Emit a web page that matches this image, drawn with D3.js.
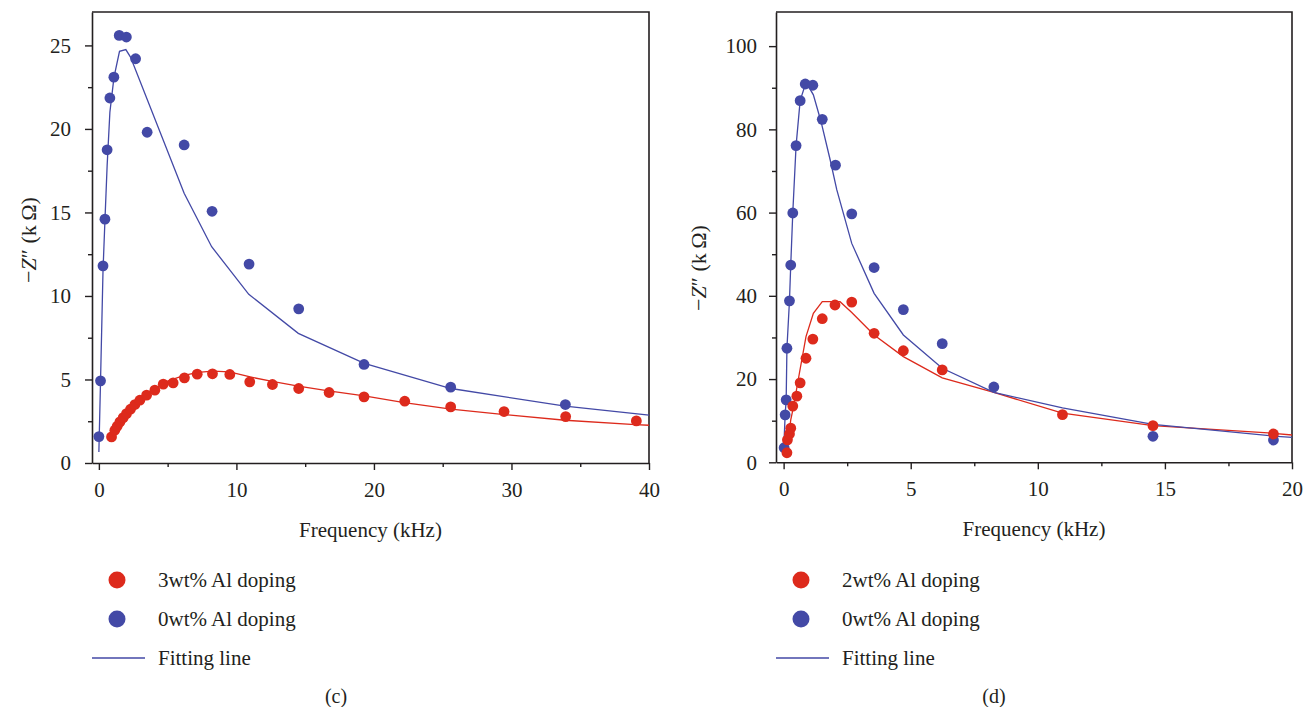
<!DOCTYPE html>
<html>
<head>
<meta charset="utf-8">
<script src="https://cdn.jsdelivr.net/npm/d3@7"></script>
<style>
  body { margin: 0; background: #fff; }
  svg text { font-family: "Liberation Serif", "Times New Roman", "DejaVu Serif", serif; fill: #231f20; }
</style>
</head>
<body>
<div id="chart"></div>
<script>
// panel (c): frequency (kHz) vs -Z'' (kOhm)
const cBlueDots = [[0,1.58],[0.12,4.92],[0.3,11.8],[0.44,14.6],[0.6,18.75],[0.8,21.85],[1.09,23.1],[1.48,25.6],[2.0,25.5],[2.67,24.2],[3.51,19.8],[6.2,19.04],[8.23,15.07],[10.92,11.91],[14.53,9.23],[19.28,5.9],[25.58,4.54],[33.92,3.5]];
const cRedDots = [[0.92,1.56],[1.16,1.96],[1.33,2.2],[1.53,2.46],[1.77,2.72],[2.01,2.96],[2.3,3.22],[2.62,3.5],[2.98,3.76],[3.47,4.06],[4.07,4.36],[4.68,4.72],[5.4,4.8],[6.22,5.1],[7.15,5.32],[8.26,5.34],[9.52,5.3],[10.97,4.86],[12.62,4.7],[14.53,4.46],[16.74,4.22],[19.28,3.96],[22.24,3.7],[25.58,3.36],[29.46,3.08],[33.94,2.78],[39.08,2.52]];
const cBlueFit = [[0,0.66],[0.12,4.9],[0.3,11.5],[0.44,14.5],[0.6,17.8],[0.8,21.0],[1.1,23.1],[1.5,24.65],[1.96,24.75],[2.3,24.3],[6.2,16.15],[8.2,12.95],[10.9,10.1],[14.5,7.76],[19.3,5.96],[25.6,4.46],[33.9,3.4],[40,2.86]];
const cRedFit = [[0.92,1.5],[1.5,2.4],[2.0,2.95],[3.0,3.8],[4.0,4.4],[5.0,4.9],[6.2,5.25],[7.2,5.42],[8.3,5.5],[9.5,5.45],[11,5.15],[12.6,4.88],[14.5,4.6],[16.7,4.32],[19.3,4.02],[22.2,3.62],[25.6,3.22],[29.5,2.9],[33.9,2.56],[39,2.3],[40,2.26]];

// panel (d)
const dBlueDots = [[0.02,3.5],[0.06,11.4],[0.1,15.0],[0.13,27.4],[0.23,38.8],[0.28,47.4],[0.36,59.9],[0.49,76.1],[0.65,86.9],[0.85,90.9],[1.15,90.6],[1.52,82.4],[2.04,71.4],[2.68,59.7],[3.56,46.8],[4.71,36.7],[6.24,28.5],[8.27,18.1],[14.53,6.25],[19.27,5.36]];
const dRedDots = [[0.13,2.3],[0.15,5.4],[0.23,6.8],[0.28,8.2],[0.36,13.5],[0.52,15.9],[0.65,19.1],[0.88,25.0],[1.15,29.6],[1.52,34.5],[2.02,37.8],[2.68,38.5],[3.56,31.0],[4.71,26.8],[6.24,22.2],[10.97,11.45],[14.53,8.8],[19.27,6.8]];
const dBlueFit = [[0.0,2.5],[0.06,11.4],[0.1,15],[0.13,27.4],[0.23,38.8],[0.28,47.4],[0.36,59.9],[0.49,76.1],[0.65,86.9],[0.85,90.7],[1.0,90.1],[1.17,88.3],[1.47,81.9],[1.83,72.7],[2.09,65.5],[2.68,52.6],[3.56,40.6],[4.71,30.6],[6.24,22.6],[8.27,16.8],[10.97,13.1],[14.53,9.1],[19.27,6.3],[20,6.0]];
const dRedFit = [[0.13,2.95],[0.28,10.2],[0.39,13.4],[0.62,21.4],[0.88,30.2],[1.17,35.8],[1.52,38.6],[2.22,38.6],[2.68,36.0],[3.56,30.6],[4.71,25.4],[6.24,20.3],[8.27,16.8],[10.97,11.8],[14.53,8.8],[19.27,6.97],[20,6.56]];

const cXTicks = [0, 10, 20, 30, 40];
const cYTicks = [0, 5, 10, 15, 20, 25];
const dXTicks = [0, 5, 10, 15, 20];
const dYTicks = [0, 20, 40, 60, 80, 100];
const cLegend = ["3wt% Al doping", "0wt% Al doping", "Fitting line"];
const dLegend = ["2wt% Al doping", "0wt% Al doping", "Fitting line"];

const RED = "#dd2a1c";
const BLUE = "#4349a6";
const INK = "#231f20";
const FS = 21;

const svg = d3.select("#chart").append("svg")
  .attr("width", 1303).attr("height", 707);

function drawPanel(p) {
  const x = d3.scaleLinear().domain(p.xDomain).range([p.left, p.right]);
  const y = d3.scaleLinear().domain(p.yDomain).range([p.bottom, p.top]);
  const g = svg.append("g");

  // minor ticks
  const xMinor = d3.range(p.xTicks[0], p.xDomain[1] + 1e-9, p.xMinorStep).filter(v => !p.xTicks.includes(v));
  const yMinor = d3.range(p.yTicks[0], p.yDomain[1], p.yMinorStep).filter(v => !p.yTicks.includes(v));

  g.append("g").attr("transform", `translate(0,${p.bottom})`)
    .call(d3.axisBottom(x).tickValues(p.xTicks).tickSize(7).tickSizeOuter(0).tickPadding(12).tickFormat(d3.format("d")));
  g.append("g").attr("transform", `translate(0,${p.bottom})`)
    .call(d3.axisBottom(x).tickValues(xMinor).tickSize(4).tickSizeOuter(0).tickFormat(""))
    .select(".domain").remove();
  g.append("g").attr("transform", `translate(${p.left},0)`)
    .call(d3.axisLeft(y).tickValues(p.yTicks).tickSize(7).tickSizeOuter(0).tickPadding(p.yPad).tickFormat(d3.format("d")));
  g.append("g").attr("transform", `translate(${p.left},0)`)
    .call(d3.axisLeft(y).tickValues(yMinor).tickSize(4).tickSizeOuter(0).tickFormat(""))
    .select(".domain").remove();

  g.selectAll(".domain").attr("stroke", INK).attr("stroke-width", 1.6);
  g.selectAll(".tick line").attr("stroke", INK).attr("stroke-width", 1.4);
  g.selectAll(".tick text").attr("font-size", FS).attr("fill", INK);

  // box top and right
  g.append("path")
    .attr("d", `M${p.left},${p.top}H${p.right}V${p.bottom}`)
    .attr("fill", "none").attr("stroke", INK).attr("stroke-width", 1.6);

  const line = d3.line().x(d => x(d[0])).y(d => y(d[1]));
  g.append("path").datum(p.redFit).attr("d", line)
    .attr("fill", "none").attr("stroke", RED).attr("stroke-width", 1.3);
  g.append("path").datum(p.blueFit).attr("d", line)
    .attr("fill", "none").attr("stroke", BLUE).attr("stroke-width", 1.3);

  g.append("g").selectAll("circle").data(p.blueDots).join("circle")
    .attr("cx", d => x(d[0])).attr("cy", d => y(d[1])).attr("r", 5.4).attr("fill", BLUE);
  g.append("g").selectAll("circle").data(p.redDots).join("circle")
    .attr("cx", d => x(d[0])).attr("cy", d => y(d[1])).attr("r", 5.4).attr("fill", RED);

  // axis titles
  g.append("text")
    .attr("x", (p.left + p.right) / 2).attr("y", p.bottom + 74)
    .attr("text-anchor", "middle").attr("font-size", FS)
    .text("Frequency (kHz)");

  const yt = g.append("text")
    .attr("transform", `translate(${p.yTitleX},${p.yTitleY}) rotate(-90)`)
    .attr("text-anchor", "middle").attr("font-size", 22);
  yt.append("tspan").text("\u2212");
  yt.append("tspan").attr("font-style", "italic").text("Z");
  yt.append("tspan").text("\u2033 (k\u2009\u03a9)");

  // legend
  const lg = g.append("g");
  p.legend.forEach((label, i) => {
    const ly = p.legendY + i * 39;
    if (i < 2) {
      lg.append("circle").attr("cx", p.legendX + 25).attr("cy", ly).attr("r", 8.5)
        .attr("fill", i === 0 ? RED : BLUE);
    } else {
      lg.append("line").attr("x1", p.legendX).attr("x2", p.legendX + 53)
        .attr("y1", ly).attr("y2", ly).attr("stroke", BLUE).attr("stroke-width", 1.3);
    }
    lg.append("text").attr("x", p.legendX + 66).attr("y", ly + 7)
      .attr("font-size", FS).text(label);
  });

  g.append("text").attr("x", p.tagX).attr("y", 703)
    .attr("text-anchor", "middle").attr("font-size", 20).text(p.tag);
}

drawPanel({
  left: 92, right: 649, top: 12, bottom: 463,
  xDomain: [-0.5, 40], yDomain: [0, 27],
  xTicks: cXTicks, yTicks: cYTicks, xMinorStep: 5, yMinorStep: 2.5,
  blueDots: cBlueDots, redDots: cRedDots, blueFit: cBlueFit, redFit: cRedFit,
  yTitleX: 36, yTitleY: 240, yPad: 14,
  legend: cLegend, legendX: 92, legendY: 580,
  tag: "(c)", tagX: 336
});

drawPanel({
  left: 776, right: 1292, top: 12, bottom: 462.3,
  xDomain: [-0.3, 20], yDomain: [0, 108.2],
  xTicks: dXTicks, yTicks: dYTicks, xMinorStep: 2.5, yMinorStep: 10,
  blueDots: dBlueDots, redDots: dRedDots, blueFit: dBlueFit, redFit: dRedFit,
  yTitleX: 706, yTitleY: 268, yPad: 12,
  legend: dLegend, legendX: 776, legendY: 580,
  tag: "(d)", tagX: 994
});
</script>
</body>
</html>
